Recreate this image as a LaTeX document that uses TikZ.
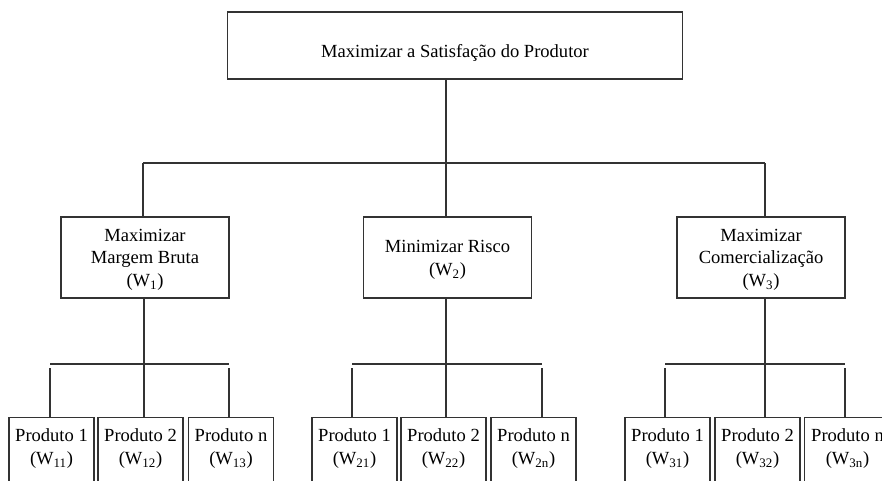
\documentclass[tikz,border=0pt]{standalone}
\usepackage{fontspec}
\setmainfont{Liberation Serif}
\begin{document}
\begin{tikzpicture}[x=0.75pt,y=-0.75pt,
  box/.style={draw=black!80, line width=0.9pt, inner sep=0pt},
  topbox/.style={box, minimum width=341.25pt, minimum height=50.25pt},
  midbox/.style={box, minimum width=126pt, minimum height=60.75pt},
  prodbox/.style={box, anchor=north, minimum width=63.75pt, minimum height=62.25pt},
  txt/.style={font=\fontsize{13.9}{16.9}\selectfont, align=center, inner sep=0pt, text=black},
  conn/.style={draw=black!80, line width=0.9pt}]
\clip (0,0) rectangle (882,480);
\useasboundingbox (0,0) rectangle (882,480);

% top
\node[topbox] (top) at (455,45.5) {};
\node[txt] (topt) at (455,53) {Maximizar a Satisfação do Produtor};

% middle
\node[midbox] (m1) at (145,257.5) {};
\node[txt] (m1t) at (145,259.5) {Maximizar\\Margem Bruta\\(W\textsubscript{1})};
\node[midbox] (m2) at (447.5,257.5) {};
\node[txt] (m2t) at (447.5,260) {Minimizar Risco\\(W\textsubscript{2})};
\node[midbox] (m3) at (761,257.5) {};
\node[txt] (m3t) at (761,259.5) {Maximizar\\Comercialização\\(W\textsubscript{3})};

% products
\node[prodbox] (p11) at (51.5,417) {};
\node[prodbox] (p12) at (140.5,417) {};
\node[prodbox] (p13) at (231,417) {};
\node[prodbox] (p21) at (354.5,417) {};
\node[prodbox] (p22) at (443.5,417) {};
\node[prodbox] (p23) at (533.5,417) {};
\node[prodbox] (p31) at (667.5,417) {};
\node[prodbox] (p32) at (757.5,417) {};
\node[prodbox] (p33) at (847,417) {};

\node[txt] (p11t) at (51.5,448.5) {Produto 1\\(W\textsubscript{11})};
\node[txt] (p12t) at (140.5,448.5) {Produto 2\\(W\textsubscript{12})};
\node[txt] (p13t) at (231,448.5) {Produto n\\(W\textsubscript{13})};
\node[txt] (p21t) at (354.5,448.5) {Produto 1\\(W\textsubscript{21})};
\node[txt] (p22t) at (443.5,448.5) {Produto 2\\(W\textsubscript{22})};
\node[txt] (p23t) at (533.5,448.5) {Produto n\\(W\textsubscript{2n})};
\node[txt] (p31t) at (667.5,448.5) {Produto 1\\(W\textsubscript{31})};
\node[txt] (p32t) at (757.5,448.5) {Produto 2\\(W\textsubscript{32})};
\node[txt] (p33t) at (847.5,448.5) {Produto n\\(W\textsubscript{3n})};

% top level connectors
\coordinate (hL) at (143,163);
\coordinate (hM) at (446,163);
\coordinate (hR) at (765,163);
\draw[conn] (top.south -| hM) -- (hM);
\draw[conn] (hL) -- (hR);
\draw[conn] (hL) -- (hL |- m1.north);
\draw[conn] (hM) -- (hM |- m2.north);
\draw[conn] (hR) -- (hR |- m3.north);

% group 1
\coordinate (a1) at (50,364);
\coordinate (a2) at (144,364);
\coordinate (a3) at (229,364);
\coordinate (a1s) at (50,368);
\coordinate (a3s) at (229,368);
\draw[conn] (m1.south -| a2) -- (a2);
\draw[conn] (a1) -- (a3);
\draw[conn] (a1s) -- (a1s |- p11.north);
\draw[conn] (a2) -- (a2 |- p12.north);
\draw[conn] (a3s) -- (a3s |- p13.north);

% group 2
\coordinate (b1) at (352,364);
\coordinate (b2) at (446,364);
\coordinate (b3) at (542,364);
\coordinate (b1s) at (352,368);
\coordinate (b3s) at (542,368);
\draw[conn] (m2.south -| b2) -- (b2);
\draw[conn] (b1) -- (b3);
\draw[conn] (b1s) -- (b1s |- p21.north);
\draw[conn] (b2) -- (b2 |- p22.north);
\draw[conn] (b3s) -- (b3s |- p23.north);

% group 3
\coordinate (c1) at (665,364);
\coordinate (c2) at (765,364);
\coordinate (c3) at (845,364);
\coordinate (c1s) at (665,368);
\coordinate (c3s) at (845,368);
\draw[conn] (m3.south -| c2) -- (c2);
\draw[conn] (c1) -- (c3);
\draw[conn] (c1s) -- (c1s |- p31.north);
\draw[conn] (c2) -- (c2 |- p32.north);
\draw[conn] (c3s) -- (c3s |- p33.north);
\end{tikzpicture}
\end{document}
